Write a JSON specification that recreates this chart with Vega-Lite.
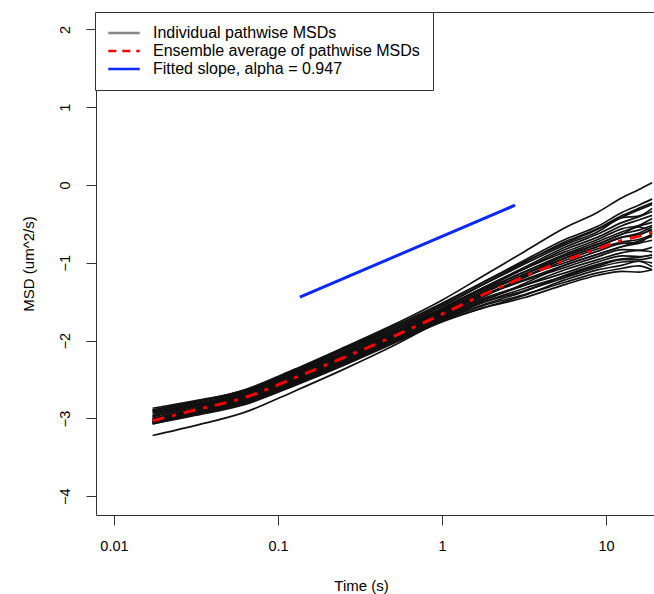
{
  "$schema": "https://vega.github.io/schema/vega-lite/v6.json",
  "width": 558,
  "height": 503,
  "autosize": "none",
  "padding": {"left": 96, "top": 12, "right": 0, "bottom": 79},
  "background": "white",
  "config": {
    "view": {"stroke": "#333", "strokeWidth": 1},
    "axis": {
      "grid": false, "domain": false, "tickColor": "#333", "tickSize": 10, "tickWidth": 1,
      "labelFont": "Liberation Sans", "labelFontSize": 14.5, "labelColor": "#000",
      "titleFont": "Liberation Sans", "titleFontSize": 15, "titleFontWeight": "normal", "titleColor": "#000"
    }
  },
  "datasets": {
    "paths": [
      {"i":1,"t":0.0172,"y":-2.89},{"i":1,"t":0.0316,"y":-2.78},{"i":1,"t":0.0631,"y":-2.65},{"i":1,"t":0.126,"y":-2.39},{"i":1,"t":0.251,"y":-2.11},{"i":1,"t":0.501,"y":-1.83},{"i":1,"t":1,"y":-1.53},{"i":1,"t":1.78,"y":-1.25},{"i":1,"t":3.16,"y":-0.97},{"i":1,"t":5.62,"y":-0.70},{"i":1,"t":8.91,"y":-0.53},{"i":1,"t":12.6,"y":-0.35},{"i":1,"t":15.8,"y":-0.26},{"i":1,"t":19.1,"y":-0.18},
      {"i":2,"t":0.0172,"y":-2.90},{"i":2,"t":0.0316,"y":-2.79},{"i":2,"t":0.0631,"y":-2.66},{"i":2,"t":0.126,"y":-2.40},{"i":2,"t":0.251,"y":-2.12},{"i":2,"t":0.501,"y":-1.85},{"i":2,"t":1,"y":-1.55},{"i":2,"t":1.78,"y":-1.28},{"i":2,"t":3.16,"y":-1.02},{"i":2,"t":5.62,"y":-0.77},{"i":2,"t":8.91,"y":-0.60},{"i":2,"t":12.6,"y":-0.42},{"i":2,"t":15.8,"y":-0.40},{"i":2,"t":19.1,"y":-0.30},
      {"i":3,"t":0.0172,"y":-2.92},{"i":3,"t":0.0316,"y":-2.81},{"i":3,"t":0.0631,"y":-2.67},{"i":3,"t":0.126,"y":-2.41},{"i":3,"t":0.251,"y":-2.14},{"i":3,"t":0.501,"y":-1.86},{"i":3,"t":1,"y":-1.56},{"i":3,"t":1.78,"y":-1.28},{"i":3,"t":3.16,"y":-1.00},{"i":3,"t":5.62,"y":-0.73},{"i":3,"t":8.91,"y":-0.56},{"i":3,"t":12.6,"y":-0.39},{"i":3,"t":15.8,"y":-0.30},{"i":3,"t":19.1,"y":-0.23},
      {"i":4,"t":0.0172,"y":-2.93},{"i":4,"t":0.0316,"y":-2.82},{"i":4,"t":0.0631,"y":-2.68},{"i":4,"t":0.126,"y":-2.42},{"i":4,"t":0.251,"y":-2.15},{"i":4,"t":0.501,"y":-1.87},{"i":4,"t":1,"y":-1.58},{"i":4,"t":1.78,"y":-1.32},{"i":4,"t":3.16,"y":-1.08},{"i":4,"t":5.62,"y":-0.86},{"i":4,"t":8.91,"y":-0.70},{"i":4,"t":12.6,"y":-0.56},{"i":4,"t":15.8,"y":-0.52},{"i":4,"t":19.1,"y":-0.43},
      {"i":5,"t":0.0172,"y":-2.95},{"i":5,"t":0.0316,"y":-2.83},{"i":5,"t":0.0631,"y":-2.69},{"i":5,"t":0.126,"y":-2.43},{"i":5,"t":0.251,"y":-2.16},{"i":5,"t":0.501,"y":-1.89},{"i":5,"t":1,"y":-1.59},{"i":5,"t":1.78,"y":-1.32},{"i":5,"t":3.16,"y":-1.06},{"i":5,"t":5.62,"y":-0.80},{"i":5,"t":8.91,"y":-0.63},{"i":5,"t":12.6,"y":-0.48},{"i":5,"t":15.8,"y":-0.41},{"i":5,"t":19.1,"y":-0.34},
      {"i":6,"t":0.0172,"y":-2.97},{"i":6,"t":0.0316,"y":-2.84},{"i":6,"t":0.0631,"y":-2.69},{"i":6,"t":0.126,"y":-2.44},{"i":6,"t":0.251,"y":-2.17},{"i":6,"t":0.501,"y":-1.90},{"i":6,"t":1,"y":-1.60},{"i":6,"t":1.78,"y":-1.35},{"i":6,"t":3.16,"y":-1.12},{"i":6,"t":5.62,"y":-0.91},{"i":6,"t":8.91,"y":-0.76},{"i":6,"t":12.6,"y":-0.63},{"i":6,"t":15.8,"y":-0.54},{"i":6,"t":19.1,"y":-0.60},
      {"i":7,"t":0.0172,"y":-2.97},{"i":7,"t":0.0316,"y":-2.85},{"i":7,"t":0.0631,"y":-2.70},{"i":7,"t":0.126,"y":-2.45},{"i":7,"t":0.251,"y":-2.18},{"i":7,"t":0.501,"y":-1.90},{"i":7,"t":1,"y":-1.61},{"i":7,"t":1.78,"y":-1.34},{"i":7,"t":3.16,"y":-1.08},{"i":7,"t":5.62,"y":-0.83},{"i":7,"t":8.91,"y":-0.67},{"i":7,"t":12.6,"y":-0.52},{"i":7,"t":15.8,"y":-0.45},{"i":7,"t":19.1,"y":-0.39},
      {"i":8,"t":0.0172,"y":-2.98},{"i":8,"t":0.0316,"y":-2.85},{"i":8,"t":0.0631,"y":-2.70},{"i":8,"t":0.126,"y":-2.45},{"i":8,"t":0.251,"y":-2.18},{"i":8,"t":0.501,"y":-1.91},{"i":8,"t":1,"y":-1.62},{"i":8,"t":1.78,"y":-1.38},{"i":8,"t":3.16,"y":-1.17},{"i":8,"t":5.62,"y":-1.00},{"i":8,"t":8.91,"y":-0.85},{"i":8,"t":12.6,"y":-0.75},{"i":8,"t":15.8,"y":-0.74},{"i":8,"t":19.1,"y":-0.62},
      {"i":9,"t":0.0172,"y":-3.00},{"i":9,"t":0.0316,"y":-2.87},{"i":9,"t":0.0631,"y":-2.71},{"i":9,"t":0.126,"y":-2.46},{"i":9,"t":0.251,"y":-2.20},{"i":9,"t":0.501,"y":-1.92},{"i":9,"t":1,"y":-1.63},{"i":9,"t":1.78,"y":-1.37},{"i":9,"t":3.16,"y":-1.12},{"i":9,"t":5.62,"y":-0.89},{"i":9,"t":8.91,"y":-0.73},{"i":9,"t":12.6,"y":-0.60},{"i":9,"t":15.8,"y":-0.53},{"i":9,"t":19.1,"y":-0.48},
      {"i":10,"t":0.0172,"y":-3.01},{"i":10,"t":0.0316,"y":-2.87},{"i":10,"t":0.0631,"y":-2.72},{"i":10,"t":0.126,"y":-2.47},{"i":10,"t":0.251,"y":-2.20},{"i":10,"t":0.501,"y":-1.93},{"i":10,"t":1,"y":-1.64},{"i":10,"t":1.78,"y":-1.39},{"i":10,"t":3.16,"y":-1.15},{"i":10,"t":5.62,"y":-0.94},{"i":10,"t":8.91,"y":-0.79},{"i":10,"t":12.6,"y":-0.67},{"i":10,"t":15.8,"y":-0.64},{"i":10,"t":19.1,"y":-0.57},
      {"i":11,"t":0.0172,"y":-3.01},{"i":11,"t":0.0316,"y":-2.88},{"i":11,"t":0.0631,"y":-2.72},{"i":11,"t":0.126,"y":-2.47},{"i":11,"t":0.251,"y":-2.21},{"i":11,"t":0.501,"y":-1.94},{"i":11,"t":1,"y":-1.65},{"i":11,"t":1.78,"y":-1.42},{"i":11,"t":3.16,"y":-1.23},{"i":11,"t":5.62,"y":-1.06},{"i":11,"t":8.91,"y":-0.92},{"i":11,"t":12.6,"y":-0.83},{"i":11,"t":15.8,"y":-0.84},{"i":11,"t":19.1,"y":-0.80},
      {"i":12,"t":0.0172,"y":-3.02},{"i":12,"t":0.0316,"y":-2.88},{"i":12,"t":0.0631,"y":-2.73},{"i":12,"t":0.126,"y":-2.48},{"i":12,"t":0.251,"y":-2.21},{"i":12,"t":0.501,"y":-1.94},{"i":12,"t":1,"y":-1.65},{"i":12,"t":1.78,"y":-1.39},{"i":12,"t":3.16,"y":-1.15},{"i":12,"t":5.62,"y":-0.91},{"i":12,"t":8.91,"y":-0.76},{"i":12,"t":12.6,"y":-0.63},{"i":12,"t":15.8,"y":-0.58},{"i":12,"t":19.1,"y":-0.52},
      {"i":13,"t":0.0172,"y":-3.03},{"i":13,"t":0.0316,"y":-2.89},{"i":13,"t":0.0631,"y":-2.73},{"i":13,"t":0.126,"y":-2.48},{"i":13,"t":0.251,"y":-2.22},{"i":13,"t":0.501,"y":-1.95},{"i":13,"t":1,"y":-1.66},{"i":13,"t":1.78,"y":-1.42},{"i":13,"t":3.16,"y":-1.22},{"i":13,"t":5.62,"y":-1.03},{"i":13,"t":8.91,"y":-0.89},{"i":13,"t":12.6,"y":-0.79},{"i":13,"t":15.8,"y":-0.75},{"i":13,"t":19.1,"y":-0.71},
      {"i":14,"t":0.0172,"y":-3.03},{"i":14,"t":0.0316,"y":-2.90},{"i":14,"t":0.0631,"y":-2.74},{"i":14,"t":0.126,"y":-2.49},{"i":14,"t":0.251,"y":-2.23},{"i":14,"t":0.501,"y":-1.96},{"i":14,"t":1,"y":-1.67},{"i":14,"t":1.78,"y":-1.42},{"i":14,"t":3.16,"y":-1.19},{"i":14,"t":5.62,"y":-0.97},{"i":14,"t":8.91,"y":-0.82},{"i":14,"t":12.6,"y":-0.73},{"i":14,"t":15.8,"y":-0.70},{"i":14,"t":19.1,"y":-0.64},
      {"i":15,"t":0.0172,"y":-3.04},{"i":15,"t":0.0316,"y":-2.90},{"i":15,"t":0.0631,"y":-2.75},{"i":15,"t":0.126,"y":-2.50},{"i":15,"t":0.251,"y":-2.24},{"i":15,"t":0.501,"y":-1.97},{"i":15,"t":1,"y":-1.68},{"i":15,"t":1.78,"y":-1.46},{"i":15,"t":3.16,"y":-1.29},{"i":15,"t":5.62,"y":-1.13},{"i":15,"t":8.91,"y":-0.99},{"i":15,"t":12.6,"y":-0.91},{"i":15,"t":15.8,"y":-0.92},{"i":15,"t":19.1,"y":-0.90},
      {"i":16,"t":0.0172,"y":-3.04},{"i":16,"t":0.0316,"y":-2.91},{"i":16,"t":0.0631,"y":-2.76},{"i":16,"t":0.126,"y":-2.51},{"i":16,"t":0.251,"y":-2.25},{"i":16,"t":0.501,"y":-1.98},{"i":16,"t":1,"y":-1.69},{"i":16,"t":1.78,"y":-1.44},{"i":16,"t":3.16,"y":-1.19},{"i":16,"t":5.62,"y":-0.94},{"i":16,"t":8.91,"y":-0.79},{"i":16,"t":12.6,"y":-0.67},{"i":16,"t":15.8,"y":-0.62},{"i":16,"t":19.1,"y":-0.54},
      {"i":17,"t":0.0172,"y":-3.05},{"i":17,"t":0.0316,"y":-2.92},{"i":17,"t":0.0631,"y":-2.77},{"i":17,"t":0.126,"y":-2.52},{"i":17,"t":0.251,"y":-2.26},{"i":17,"t":0.501,"y":-1.99},{"i":17,"t":1,"y":-1.70},{"i":17,"t":1.78,"y":-1.48},{"i":17,"t":3.16,"y":-1.29},{"i":17,"t":5.62,"y":-1.09},{"i":17,"t":8.91,"y":-0.96},{"i":17,"t":12.6,"y":-0.87},{"i":17,"t":15.8,"y":-0.84},{"i":17,"t":19.1,"y":-0.86},
      {"i":18,"t":0.0172,"y":-3.05},{"i":18,"t":0.0316,"y":-2.93},{"i":18,"t":0.0631,"y":-2.78},{"i":18,"t":0.126,"y":-2.53},{"i":18,"t":0.251,"y":-2.27},{"i":18,"t":0.501,"y":-2.00},{"i":18,"t":1,"y":-1.71},{"i":18,"t":1.78,"y":-1.51},{"i":18,"t":3.16,"y":-1.36},{"i":18,"t":5.62,"y":-1.19},{"i":18,"t":8.91,"y":-1.06},{"i":18,"t":12.6,"y":-0.99},{"i":18,"t":15.8,"y":-0.98},{"i":18,"t":19.1,"y":-1.00},
      {"i":19,"t":0.0172,"y":-3.05},{"i":19,"t":0.0316,"y":-2.93},{"i":19,"t":0.0631,"y":-2.78},{"i":19,"t":0.126,"y":-2.54},{"i":19,"t":0.251,"y":-2.28},{"i":19,"t":0.501,"y":-2.00},{"i":19,"t":1,"y":-1.72},{"i":19,"t":1.78,"y":-1.49},{"i":19,"t":3.16,"y":-1.27},{"i":19,"t":5.62,"y":-1.03},{"i":19,"t":8.91,"y":-0.89},{"i":19,"t":12.6,"y":-0.79},{"i":19,"t":15.8,"y":-0.72},{"i":19,"t":19.1,"y":-0.66},
      {"i":20,"t":0.0172,"y":-3.06},{"i":20,"t":0.0316,"y":-2.94},{"i":20,"t":0.0631,"y":-2.79},{"i":20,"t":0.126,"y":-2.55},{"i":20,"t":0.251,"y":-2.29},{"i":20,"t":0.501,"y":-2.01},{"i":20,"t":1,"y":-1.73},{"i":20,"t":1.78,"y":-1.55},{"i":20,"t":3.16,"y":-1.41},{"i":20,"t":5.62,"y":-1.25},{"i":20,"t":8.91,"y":-1.13},{"i":20,"t":12.6,"y":-1.07},{"i":20,"t":15.8,"y":-1.04},{"i":20,"t":19.1,"y":-1.09},
      {"i":21,"t":0.0172,"y":-3.06},{"i":21,"t":0.0316,"y":-2.95},{"i":21,"t":0.0631,"y":-2.80},{"i":21,"t":0.126,"y":-2.56},{"i":21,"t":0.251,"y":-2.30},{"i":21,"t":0.501,"y":-2.02},{"i":21,"t":1,"y":-1.74},{"i":21,"t":1.78,"y":-1.54},{"i":21,"t":3.16,"y":-1.37},{"i":21,"t":5.62,"y":-1.16},{"i":21,"t":8.91,"y":-1.02},{"i":21,"t":12.6,"y":-0.95},{"i":21,"t":15.8,"y":-0.93},{"i":21,"t":19.1,"y":-0.90},
      {"i":22,"t":0.0172,"y":-3.07},{"i":22,"t":0.0316,"y":-2.95},{"i":22,"t":0.0631,"y":-2.81},{"i":22,"t":0.126,"y":-2.57},{"i":22,"t":0.251,"y":-2.31},{"i":22,"t":0.501,"y":-2.03},{"i":22,"t":1,"y":-1.75},{"i":22,"t":1.78,"y":-1.58},{"i":22,"t":3.16,"y":-1.45},{"i":22,"t":5.62,"y":-1.28},{"i":22,"t":8.91,"y":-1.16},{"i":22,"t":12.6,"y":-1.11},{"i":22,"t":15.8,"y":-1.12},{"i":22,"t":19.1,"y":-1.09},
      {"i":23,"t":0.0172,"y":-2.87},{"i":23,"t":0.0316,"y":-2.77},{"i":23,"t":0.0631,"y":-2.64},{"i":23,"t":0.126,"y":-2.38},{"i":23,"t":0.251,"y":-2.10},{"i":23,"t":0.501,"y":-1.82},{"i":23,"t":1,"y":-1.52},{"i":23,"t":1.78,"y":-1.25},{"i":23,"t":3.16,"y":-0.99},{"i":23,"t":5.62,"y":-0.75},{"i":23,"t":8.91,"y":-0.57},{"i":23,"t":12.6,"y":-0.41},{"i":23,"t":15.8,"y":-0.32},{"i":23,"t":19.1,"y":-0.25},
      {"i":24,"t":0.0172,"y":-3.07},{"i":24,"t":0.0316,"y":-2.96},{"i":24,"t":0.0631,"y":-2.82},{"i":24,"t":0.126,"y":-2.58},{"i":24,"t":0.251,"y":-2.32},{"i":24,"t":0.501,"y":-2.04},{"i":24,"t":1,"y":-1.76},{"i":24,"t":1.78,"y":-1.58},{"i":24,"t":3.16,"y":-1.42},{"i":24,"t":5.62,"y":-1.22},{"i":24,"t":8.91,"y":-1.09},{"i":24,"t":12.6,"y":-1.03},{"i":24,"t":15.8,"y":-0.98},{"i":24,"t":19.1,"y":-1.05},
      {"i":25,"t":0.0172,"y":-2.90},{"i":25,"t":0.0316,"y":-2.79},{"i":25,"t":0.0631,"y":-2.63},{"i":25,"t":0.126,"y":-2.37},{"i":25,"t":0.251,"y":-2.09},{"i":25,"t":0.501,"y":-1.80},{"i":25,"t":1,"y":-1.48},{"i":25,"t":1.78,"y":-1.17},{"i":25,"t":3.16,"y":-0.86},{"i":25,"t":5.62,"y":-0.55},{"i":25,"t":8.91,"y":-0.35},{"i":25,"t":12.6,"y":-0.16},{"i":25,"t":15.8,"y":-0.06},{"i":25,"t":19.1,"y":0.03},
      {"i":26,"t":0.0172,"y":-3.22},{"i":26,"t":0.0316,"y":-3.09},{"i":26,"t":0.0631,"y":-2.92},{"i":26,"t":0.126,"y":-2.65},{"i":26,"t":0.251,"y":-2.37},{"i":26,"t":0.501,"y":-2.07},{"i":26,"t":1,"y":-1.74},{"i":26,"t":1.78,"y":-1.51},{"i":26,"t":3.16,"y":-1.33},{"i":26,"t":5.62,"y":-1.17},{"i":26,"t":8.91,"y":-1.04},{"i":26,"t":12.6,"y":-0.96},{"i":26,"t":15.8,"y":-0.96},{"i":26,"t":19.1,"y":-0.93}
    ],
    "mean": [
      {"t":0.0172,"y":-3.03},{"t":0.0316,"y":-2.89},{"t":0.0631,"y":-2.73},{"t":0.126,"y":-2.48},{"t":0.251,"y":-2.22},{"t":0.501,"y":-1.95},{"t":1,"y":-1.66},{"t":1.78,"y":-1.41},{"t":3.16,"y":-1.18},{"t":5.62,"y":-0.97},{"t":8.91,"y":-0.82},{"t":12.6,"y":-0.71},{"t":15.8,"y":-0.66},{"t":19.1,"y":-0.61}
    ],
    "fit": [
      {"t":0.136,"y":-1.44},{"t":2.79,"y":-0.26}
    ]
  },
  "encoding": {
    "x": {
      "field": "t", "type": "quantitative",
      "scale": {"type": "log", "domain": [0.00777, 19.62], "nice": false, "zero": false},
      "axis": {
        "values": [0.01, 0.1, 1, 10], "format": "~g", "labelPadding": 14,
        "title": "Time (s)", "titleX": 265, "titleY": 75, "titleAlign": "center", "titleBaseline": "alphabetic"
      }
    },
    "y": {
      "field": "y", "type": "quantitative",
      "scale": {"domain": [-4.242, 2.224], "nice": false, "zero": false},
      "axis": {
        "values": [-4, -3, -2, -1, 0, 1, 2], "labelAngle": -90, "labelAlign": "center", "labelBaseline": "bottom", "labelPadding": 14,
        "title": "MSD (um^2/s)", "titleX": -68, "titleY": 251.5, "titleAngle": -90, "titleAlign": "center", "titleBaseline": "middle"
      }
    }
  },
  "layer": [
    {
      "data": {"name": "paths"},
      "mark": {"type": "line", "stroke": "#111111", "strokeWidth": 1.7, "interpolate": "monotone", "clip": true},
      "encoding": {"detail": {"field": "i", "type": "nominal"}}
    },
    {
      "data": {"name": "mean"},
      "mark": {"type": "line", "strokeWidth": 3, "strokeDash": [12, 8, 4, 8], "interpolate": "monotone", "clip": true},
      "encoding": {
        "color": {
          "datum": "Ensemble average of pathwise MSDs", "type": "nominal",
          "scale": {
            "domain": ["Individual pathwise MSDs", "Ensemble average of pathwise MSDs", "Fitted slope, alpha = 0.947"],
            "range": ["#888888", "#ff0000", "#0a28ff"]
          },
          "legend": {
            "title": null, "orient": "none", "legendX": -1, "legendY": 0,
            "symbolType": "M-3,0H3", "symbolSize": 110, "symbolStrokeWidth": 2.5, "symbolOffset": 8,
            "labelFont": "Liberation Sans", "labelFontSize": 16, "labelColor": "#000", "labelLimit": 0,
            "labelOffset": 21, "padding": 13, "rowPadding": 2,
            "fillColor": "#ffffff", "strokeColor": "#333", "cornerRadius": 0,
            "encode": {"symbols": {"update": {"strokeDash": {"signal": "datum.value == 'Ensemble average of pathwise MSDs' ? [8, 6] : [1, 0]"}}}}
          }
        }
      }
    },
    {
      "data": {"name": "fit"},
      "mark": {"type": "line", "strokeWidth": 3, "clip": true},
      "encoding": {"color": {"datum": "Fitted slope, alpha = 0.947", "type": "nominal"}}
    }
  ]
}
